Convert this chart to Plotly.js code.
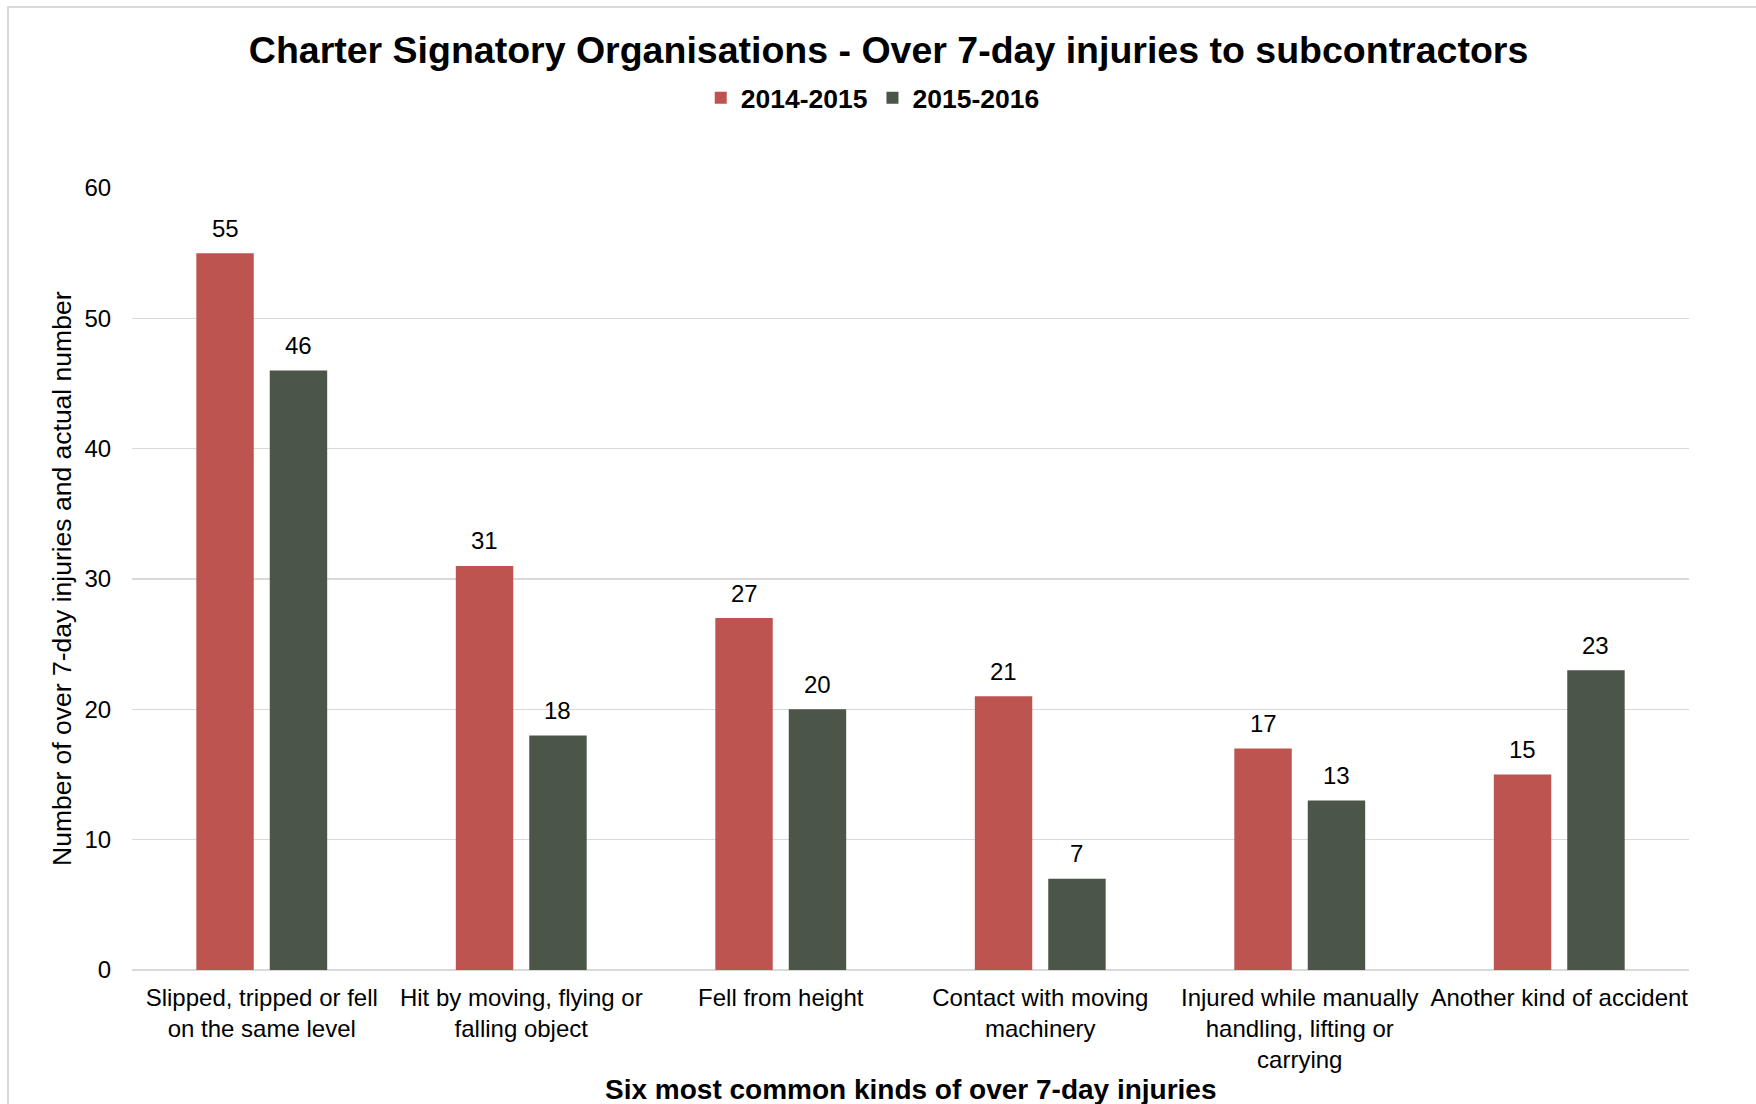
<!DOCTYPE html>
<html>
<head>
<meta charset="utf-8">
<script src="https://cdn.plot.ly/plotly-3.0.1.min.js"></script>
<style>
  html, body { margin: 0; padding: 0; background: #ffffff; overflow: hidden; }
  #chart { width: 1756px; height: 1104px; position: absolute; left: 0; top: 0; }
  #frame { position: absolute; left: 7px; top: 6px; width: 1800px; height: 1200px;
           border-left: 2px solid #d9d9d9; border-top: 2px solid #d9d9d9; pointer-events: none; }
</style>
</head>
<body>
<div id="chart"></div>
<div id="frame"></div>
<script>
const categories = [
  "Slipped, tripped or fell<br>on the same level",
  "Hit by moving, flying or<br>falling object",
  "Fell from height",
  "Contact with moving<br>machinery",
  "Injured while manually<br>handling, lifting or<br>carrying",
  "Another kind of accident"
];
const seriesNames = ["2014-2015", "2015-2016"];
const values2014 = [55, 31, 27, 21, 17, 15];
const values2015 = [46, 18, 20, 7, 13, 23];
const seriesColors = ["#BE544F", "#4B5548"];
const yTicks = [0, 10, 20, 30, 40, 50, 60];

const W = 1756, H = 1104;
const margin = {l: 132, r: 67, t: 188, b: 134};
const bargap = 0.434, bargroupgap = 0.218;
const FONT = "Liberation Sans, Arial, sans-serif";

const plotW = W - margin.l - margin.r;
const catW = plotW / categories.length;
const slot = catW * (1 - bargap) / 2;

const seriesValues = [values2014, values2015];
const traces = seriesValues.map((vals, i) => ({
  type: "bar",
  name: seriesNames[i],
  x: categories,
  y: vals,
  marker: {color: seriesColors[i], line: {width: 0}},
  hoverinfo: "none"
}));

const annotations = [];
seriesValues.forEach((vals, i) => {
  const shift = (i === 0 ? -1 : 1) * slot / 2;
  vals.forEach((v, j) => {
    annotations.push({
      x: categories[j], y: v, xref: "x", yref: "y",
      text: String(v), showarrow: false,
      xanchor: "center", yanchor: "middle",
      xshift: shift, yshift: 25,
      font: {family: FONT, size: 24, color: "#000000"}
    });
  });
});

annotations.push({
  xref: "paper", yref: "paper", x: 0.5, y: -(1089 - (H - margin.b)) / (H - margin.t - margin.b),
  xanchor: "center", yanchor: "middle", showarrow: false,
  text: "<b>Six most common kinds of over 7-day injuries</b>",
  font: {family: FONT, size: 28, color: "#000000"}
});
annotations.push({
  xref: "paper", yref: "paper", x: (62 - margin.l) / plotW, y: 0.5,
  xanchor: "center", yanchor: "middle", showarrow: false, textangle: -90,
  text: "Number of over 7-day injuries and actual number",
  font: {family: FONT, size: 26.5, color: "#000000"}
});

const layout = {
  width: W, height: H,
  margin: margin,
  paper_bgcolor: "#ffffff",
  plot_bgcolor: "#ffffff",
  barmode: "group",
  bargap: bargap,
  bargroupgap: bargroupgap,
  title: {
    text: "<b>Charter Signatory Organisations - Over 7-day injuries to subcontractors</b>",
    font: {family: FONT, size: 37.5, color: "#000000"},
    xref: "container", yref: "container",
    x: 0.506, y: 1 - 50 / H, xanchor: "center", yanchor: "middle"
  },
  showlegend: true,
  legend: {
    orientation: "h",
    xref: "container", yref: "container",
    x: 0.497, y: 1 - 98 / H, xanchor: "center", yanchor: "middle",
    font: {family: FONT, size: 26.5, color: "#000000", weight: "bold"},
    itemwidth: 30,
    traceorder: "normal",
    bgcolor: "rgba(0,0,0,0)"
  },
  xaxis: {
    type: "category",
    tickfont: {family: FONT, size: 24, color: "#000000"},
    ticks: "outside", ticklen: 6, tickcolor: "rgba(0,0,0,0)",
    showline: false, showgrid: false, zeroline: false,
    automargin: false, fixedrange: true
  },
  yaxis: {
    range: [0, 60],
    tickvals: yTicks,
    ticktext: yTicks.map(String),
    tickfont: {family: FONT, size: 24, color: "#000000"},
    ticks: "outside", ticklen: 15, tickcolor: "rgba(0,0,0,0)",
    showgrid: true, gridcolor: "#d9d9d9", gridwidth: 1.5,
    zeroline: true, zerolinecolor: "#d9d9d9", zerolinewidth: 2,
    showline: false, automargin: false, fixedrange: true
  },
  annotations: annotations
};

Plotly.newPlot("chart", traces, layout, {displayModeBar: false, staticPlot: true});
</script>
</body>
</html>
